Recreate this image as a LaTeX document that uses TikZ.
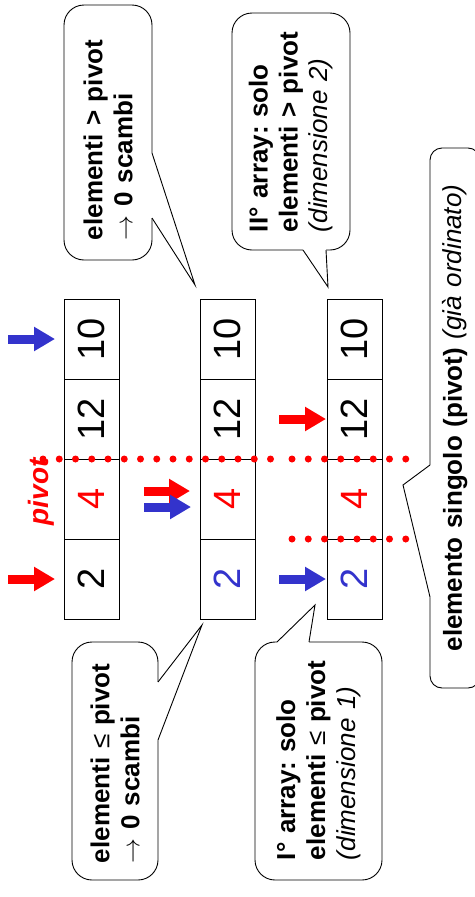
\documentclass[tikz,border=0pt]{standalone}
\usepackage{fontspec}
\setmainfont{Liberation Sans}
\usepackage{graphicx}
\usetikzlibrary{positioning,arrows.meta}
\frenchspacing

\definecolor{pivred}{RGB}{255,0,0}
\definecolor{scanblue}{RGB}{51,51,204}

\newcommand{\cellfont}{\fontsize{38pt}{40pt}\selectfont}
\newcommand{\bubfont}{\fontsize{26pt}{30pt}\selectfont}
\newcommand{\vtxt}[1]{\rotatebox{90}{#1}}

\begin{document}
\begin{tikzpicture}[x=1pt, y=-1pt,
    cell/.style={rectangle, draw=black, line width=0.9pt, minimum width=55pt, minimum height=80pt, inner sep=0pt, outer sep=0pt, font=\cellfont},
    ptr/.style={line width=9pt, -{Triangle[length=21pt, width=23pt]}},
    cut/.style={draw=pivred, line width=7pt, line cap=round, dash pattern=on 0pt off 16.25pt},
    bubble/.style={rectangle, draw=black, fill=white, line width=0.9pt, rounded corners=20pt, rotate=90, inner ysep=0pt, align=left, font=\bubfont},
    tail/.style={draw=black, line width=0.9pt, line join=miter},
  ]
  \useasboundingbox (0,0) rectangle (474,897);

  % the three arrays, bottom cell first
  \node[cell] (a1c1) at (91.5,579) {\vtxt{2}};
  \node[cell] (a1c2) [above=0pt of a1c1] {\vtxt{\textcolor{pivred}{4}}};
  \node[cell] (a1c3) [above=0pt of a1c2] {\vtxt{12}};
  \node[cell] (a1c4) [above=0pt of a1c3] {\vtxt{10}};

  \node[cell] (a2c1) [right=81pt of a1c1] {\vtxt{\textcolor{scanblue}{2}}};
  \node[cell] (a2c2) [above=0pt of a2c1] {\vtxt{\textcolor{pivred}{4}}};
  \node[cell] (a2c3) [above=0pt of a2c2] {\vtxt{12}};
  \node[cell] (a2c4) [above=0pt of a2c3] {\vtxt{10}};

  \node[cell] (a3c1) [right=72pt of a2c1] {\vtxt{\textcolor{scanblue}{2}}};
  \node[cell] (a3c2) [above=0pt of a3c1] {\vtxt{\textcolor{pivred}{4}}};
  \node[cell] (a3c3) [above=0pt of a3c2] {\vtxt{12}};
  \node[cell] (a3c4) [above=0pt of a3c3] {\vtxt{10}};

  % dotted cuts around the pivot
  \draw[cut] ([xshift=-21pt]a1c2.north west) -- ([xshift=17pt]a2c2.north east);
  \draw[cut] ([xshift=-35pt]a3c2.north west) -- ([xshift=26pt]a3c2.north east);
  \draw[cut] ([xshift=-35pt]a3c1.north west) -- ([xshift=26pt]a3c1.north east);

  \node[font=\fontsize{28pt}{30pt}\selectfont\bfseries\itshape, text=pivred, rotate=90] (pivlab) at (41,492) {pivot};

  % scan pointers
  \draw[ptr, pivred] ([xshift=-56pt]a1c1.west) -- ([xshift=-9pt]a1c1.west);
  \draw[ptr, scanblue] ([xshift=-56pt]a1c4.west) -- ([xshift=-9pt]a1c4.west);
  \draw[ptr, pivred] ([xshift=-56pt,yshift=8pt]a2c2.west) -- ([xshift=-10pt,yshift=8pt]a2c2.west);
  \draw[ptr, scanblue] ([xshift=-56pt,yshift=-8pt]a2c2.west) -- ([xshift=-9pt,yshift=-8pt]a2c2.west);
  \draw[ptr, pivred] ([xshift=-48pt]a3c3.west) -- ([xshift=-1pt]a3c3.west);
  \draw[ptr, scanblue] ([xshift=-48pt]a3c1.west) -- ([xshift=-1pt]a3c1.west);

  % callouts
  \coordinate (tipA) at ([xshift=-5pt,yshift=14pt]a2c4.north west);
  \coordinate (tipB) at ([xshift=1pt,yshift=12pt]a3c4.north west);
  \coordinate (tipC) at ([xshift=2pt,yshift=-6pt]a2c1.south west);
  \coordinate (tipD) at ([xshift=-12pt,yshift=14pt]a3c1.south west);
  \coordinate (tipE) at ([xshift=21pt,yshift=14pt]a3c2.east);

  \node[bubble, minimum width=255pt, minimum height=88pt, text width=215pt, inner xsep=20pt] (bubA) at (108,132.5)
    {\mbox{\textbf{elementi > pivot}}\\\mbox{$\rightarrow$ \textbf{0 scambi}}};
  \fill[white] (149,153) -- (152.6,153) -- (tipA) -- (152.6,218) -- (149,218) -- cycle;
  \draw[tail] (152,153) -- (tipA) -- (152,218);

  \node[bubble, minimum width=237pt, minimum height=118pt, text width=201pt, inner xsep=18pt] (bubB) at (291,131.5)
    {\mbox{\textbf{II° array: solo}}\\\mbox{\textbf{elementi > pivot}}\\\mbox{\textit{(dimensione 2)}}};
  \fill[white] (303,247) -- (303,250.6) -- (tipB) -- (326,250.6) -- (326,247) -- cycle;
  \draw[tail] (303,250) -- (tipB) -- (326,250);

  \node[bubble, minimum width=238pt, minimum height=86pt, text width=204pt, inner xsep=17pt] (bubC) at (115,761)
    {\mbox{\textbf{elementi} ≤ \textbf{pivot}}\\\mbox{$\rightarrow$ \textbf{0 scambi}}};
  \fill[white] (155,682) -- (158.6,682) -- (tipC) -- (158.6,740) -- (155,740) -- cycle;
  \draw[tail] (158,682) -- (tipC) -- (158,740);

  \node[bubble, minimum width=238pt, minimum height=127pt, text width=198pt, inner xsep=20pt] (bubD) at (318.5,761)
    {\mbox{\textbf{I° array: solo}}\\\mbox{\textbf{elementi} ≤ \textbf{pivot}}\\\mbox{\textit{(dimensione 1)}}};
  \fill[white] (277,645) -- (277,641.4) -- (tipD) -- (309,641.4) -- (309,645) -- cycle;
  \draw[tail] (277,642) -- (tipD) -- (309,642);

  \node[bubble, rounded corners=12pt, minimum width=540pt, minimum height=50pt, text width=500pt, inner xsep=20pt, align=center] (bubE) at (455,418)
    {\mbox{\textbf{elemento singolo (pivot)} \textit{(già ordinato)}}};
  \fill[white] (433,465) -- (429.4,465) -- (tipE) -- (429.4,597) -- (433,597) -- cycle;
  \draw[tail] (430,465) -- (tipE) -- (430,597);
\end{tikzpicture}
\end{document}
